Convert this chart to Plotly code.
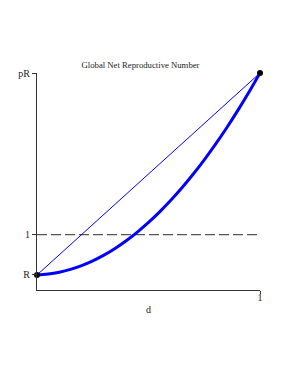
import plotly.graph_objects as go

d_vals = [0, 0.05, 0.1, 0.15, 0.2, 0.25, 0.3, 0.35, 0.4, 0.45, 0.5,
          0.55, 0.6, 0.65, 0.7, 0.75, 0.8, 0.85, 0.9, 0.95, 1.0]
net_vals = [0.500, 0.511, 0.534, 0.569, 0.616, 0.675, 0.746, 0.829, 0.924, 1.031, 1.150,
            1.281, 1.424, 1.579, 1.746, 1.925, 2.116, 2.319, 2.534, 2.761, 3.000]
chord_d = [0, 1]
chord_vals = [0.50, 3.00]
threshold = 1.0
y_tick_vals = [0.5, 1.0, 3.0]
y_tick_text = ["R", "1", "pR"]
x_tick_vals = [1]
x_tick_text = ["1"]

serif = "Liberation Serif, Times New Roman, serif"

fig = go.Figure()
fig.add_trace(go.Scatter(x=[0, 1], y=[threshold, threshold], mode="lines",
                         line=dict(color="#555555", width=1.2, dash="10px,4px"),
                         hoverinfo="skip"))
fig.add_trace(go.Scatter(x=chord_d, y=chord_vals, mode="lines",
                         line=dict(color="#0000ff", width=1)))
fig.add_trace(go.Scatter(x=d_vals, y=net_vals, mode="lines",
                         line=dict(color="#0000ff", width=3, shape="spline")))
fig.add_trace(go.Scatter(x=chord_d, y=chord_vals, mode="markers",
                         marker=dict(color="black", size=6), cliponaxis=False))

fig.update_layout(
    width=279, height=364,
    margin=dict(l=29, r=27, t=65, b=82),
    paper_bgcolor="white", plot_bgcolor="white",
    showlegend=False,
    font=dict(family=serif, size=10, color="#222222"),
    title=dict(text="Global Net Reproductive Number", x=132.5 / 279, xanchor="center",
               y=1 - 56.5 / 364, yanchor="middle",
               font=dict(family=serif, size=8.7, color="#222222")),
    xaxis=dict(range=[0, 1], showgrid=False, zeroline=False, automargin=False,
               showline=True, linecolor="#333333", linewidth=1,
               tickmode="array", tickvals=x_tick_vals, ticktext=x_tick_text,
               ticks="outside", ticklen=3, tickcolor="#333333",
               ticklabelstandoff=-5,
               title=dict(text="d", standoff=3, font=dict(family=serif, size=10))),
    yaxis=dict(range=[0.314, 3.0], showgrid=False, zeroline=False, automargin=False,
               showline=True, linecolor="#333333", linewidth=1,
               tickmode="array", tickvals=y_tick_vals, ticktext=y_tick_text,
               ticks="outside", ticklen=4, tickcolor="#333333"),
)

fig.write_html("out.html")
